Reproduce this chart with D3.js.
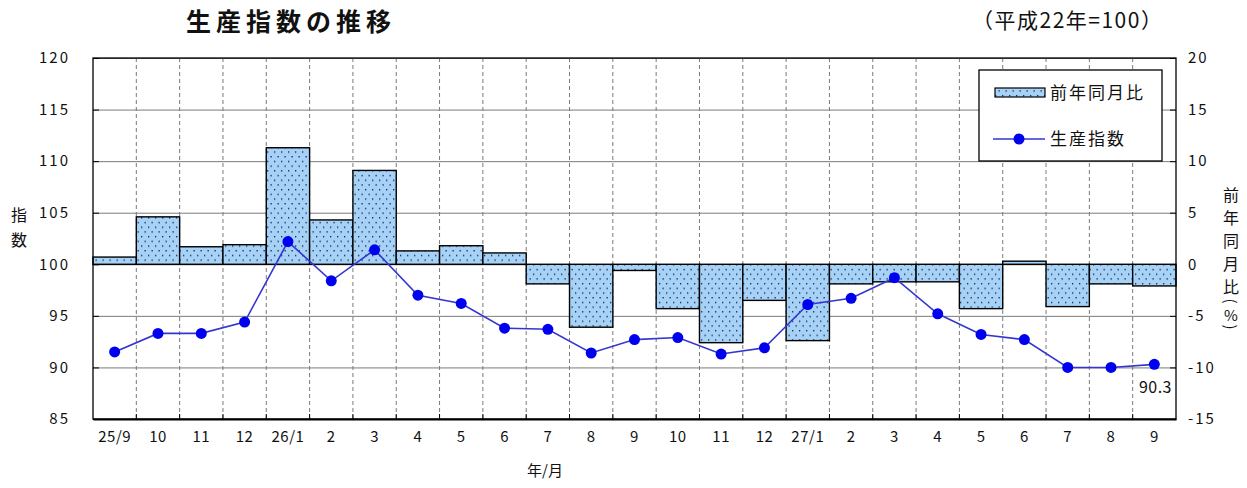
<!DOCTYPE html>
<html>
<head>
<meta charset="utf-8">
<script src="https://cdn.jsdelivr.net/npm/d3@7/dist/d3.min.js"></script>
<style>
  html, body { margin: 0; padding: 0; background: #fff; }
  svg { display: block; }
  text { font-family: "Noto Sans CJK JP", "Noto Sans", sans-serif; fill: #111; }
</style>
</head>
<body>
<svg id="chart" width="1247" height="488"></svg>
<script>
// Months (年/月) from 平成25年9月 to 平成27年9月
const categories = ["25/9","10","11","12","26/1","2","3","4","5","6","7","8","9","10","11","12","27/1","2","3","4","5","6","7","8","9"];
// 前年同月比 (%)
const yoyChange = [0.7,4.6,1.7,1.9,11.3,4.3,9.1,1.3,1.8,1.1,-1.9,-6.1,-0.6,-4.3,-7.6,-3.5,-7.4,-1.9,-1.7,-1.7,-4.3,0.3,-4.1,-1.9,-2.1];
// 生産指数 (平成22年=100)
const productionIndex = [91.5,93.3,93.3,94.4,102.2,98.4,101.4,97.0,96.2,93.8,93.7,91.4,92.7,92.9,91.3,91.9,96.1,96.7,98.7,95.2,93.2,92.7,90.0,90.0,90.3];
const leftTicks = [85,90,95,100,105,110,115,120];
const rightTicks = [-15,-10,-5,0,5,10,15,20];

const svg = d3.select("#chart");
const plot = { left: 93, right: 1176, top: 58, bottom: 419 };

const x = d3.scaleBand().domain(d3.range(categories.length)).range([plot.left, plot.right]).padding(0);
const yL = d3.scaleLinear().domain([85, 120]).range([plot.bottom, plot.top]);
const yR = d3.scaleLinear().domain([-15, 20]).range([plot.bottom, plot.top]);

// dotted fill for the bars
const defs = svg.append("defs");
const pat = defs.append("pattern").attr("id", "dots").attr("patternUnits", "userSpaceOnUse")
  .attr("width", 7).attr("height", 9.4);
pat.append("rect").attr("width", 7).attr("height", 9.4).attr("fill", "#a6d2f7");
pat.append("rect").attr("x", 1).attr("y", 1).attr("width", 1.3).attr("height", 1.3).attr("fill", "#1a1a40");
pat.append("rect").attr("x", 4.5).attr("y", 5.7).attr("width", 1.3).attr("height", 1.3).attr("fill", "#1a1a40");

// horizontal grid
svg.append("g").attr("transform", `translate(${plot.left},0)`)
  .call(d3.axisLeft(yL).tickValues(leftTicks).tickSize(-(plot.right - plot.left)).tickFormat(""))
  .call(g => g.select(".domain").remove())
  .call(g => g.selectAll("line").attr("stroke", "#7a7a7a").attr("stroke-width", 1));

// vertical dashed grid at month boundaries
svg.append("g").selectAll("line").data(d3.range(1, categories.length)).join("line")
  .attr("x1", i => x(i)).attr("x2", i => x(i))
  .attr("y1", plot.top).attr("y2", plot.bottom)
  .attr("stroke", "#7a7a7a").attr("stroke-width", 1).attr("stroke-dasharray", "4,3");

// bars: 前年同月比
svg.append("g").selectAll("rect").data(yoyChange).join("rect")
  .attr("x", (d, i) => x(i))
  .attr("width", x.bandwidth())
  .attr("y", d => Math.min(yR(0), yR(d)))
  .attr("height", d => Math.abs(yR(d) - yR(0)))
  .attr("fill", "url(#dots)")
  .attr("stroke", "#000").attr("stroke-width", 1.4);

// line: 生産指数
const line = d3.line().x((d, i) => x(i) + x.bandwidth() / 2).y(d => yL(d));
svg.append("path").datum(productionIndex)
  .attr("d", line).attr("fill", "none").attr("stroke", "#3535d0").attr("stroke-width", 1.6);
svg.append("g").selectAll("circle").data(productionIndex).join("circle")
  .attr("cx", (d, i) => x(i) + x.bandwidth() / 2)
  .attr("cy", d => yL(d)).attr("r", 5.5).attr("fill", "#0000f0");

// value label on the last point
const last = productionIndex.length - 1;
svg.append("text").attr("x", plot.right - 4).attr("y", yL(productionIndex[last]) + 29)
  .attr("text-anchor", "end").attr("font-size", 16).attr("letter-spacing", 0.5)
  .text(productionIndex[last].toFixed(1));

// plot frame
svg.append("rect").attr("x", plot.left).attr("y", plot.top)
  .attr("width", plot.right - plot.left).attr("height", plot.bottom - plot.top)
  .attr("fill", "none").attr("stroke", "#000").attr("stroke-width", 1.3);

// left axis
svg.append("g").attr("transform", `translate(${plot.left},0)`)
  .call(d3.axisLeft(yL).tickValues(leftTicks).tickSize(-6).tickPadding(23))
  .call(g => g.select(".domain").remove())
  .call(g => g.selectAll("line").attr("stroke", "#000"))
  .call(g => g.selectAll("text").attr("font-size", 15).attr("letter-spacing", 2)
    .attr("font-family", "'Noto Sans CJK JP', sans-serif").attr("fill", "#111"));

// right axis
svg.append("g").attr("transform", `translate(${plot.right},0)`)
  .call(d3.axisRight(yR).tickValues(rightTicks).tickSize(-6).tickPadding(12)
    .tickFormat(d => d < 0 ? "-" + Math.abs(d) : String(d)))
  .call(g => g.select(".domain").remove())
  .call(g => g.selectAll("line").attr("stroke", "#000"))
  .call(g => g.selectAll("text").attr("font-size", 15).attr("letter-spacing", 2)
    .attr("font-family", "'Noto Sans CJK JP', sans-serif").attr("fill", "#111"));

// bottom axis
svg.append("g").attr("transform", `translate(0,${plot.bottom})`)
  .call(d3.axisBottom(x).tickFormat(i => categories[i]).tickSize(0).tickPadding(12))
  .call(g => g.select(".domain").attr("stroke", "#000").attr("stroke-width", 2))
  .call(g => g.selectAll("text").attr("font-size", 15).attr("letter-spacing", 0.5)
    .attr("font-family", "'Noto Sans CJK JP', sans-serif").attr("fill", "#111"));
svg.append("g").selectAll("line").data(d3.range(1, categories.length)).join("line")
  .attr("x1", i => x(i)).attr("x2", i => x(i))
  .attr("y1", plot.bottom - 5).attr("y2", plot.bottom)
  .attr("stroke", "#000");

// titles
svg.append("text").attr("x", 186).attr("y", 31).attr("font-size", 25).attr("font-weight", "bold")
  .attr("letter-spacing", 5).text("生産指数の推移");
svg.append("text").attr("x", 972).attr("y", 28).attr("font-size", 21).attr("letter-spacing", 1.5)
  .text("（平成22年=100）");
svg.append("text").attr("x", 545).attr("y", 476).attr("text-anchor", "middle")
  .attr("font-size", 15).text("年/月");

// vertical axis titles
["指", "数"].forEach((c, k) => {
  svg.append("text").attr("x", 19).attr("y", 221 + k * 25).attr("text-anchor", "middle")
    .attr("font-size", 16).text(c);
});
["前", "年", "同", "月", "比"].forEach((c, k) => {
  svg.append("text").attr("x", 1231).attr("y", 201 + k * 23).attr("text-anchor", "middle")
    .attr("font-size", 16).text(c);
});
// "（%）" written vertically: brackets turned a quarter turn
[["(", 301, 90], ["%", 314, 0], [")", 327, 90]].forEach(([c, cy, rot]) => {
  svg.append("text").attr("transform", `translate(1231,${cy}) rotate(${rot})`)
    .attr("text-anchor", "middle").attr("dominant-baseline", "central")
    .attr("font-size", 15).text(c);
});

// legend
const lg = svg.append("g");
lg.append("rect").attr("x", 979).attr("y", 70).attr("width", 183).attr("height", 91)
  .attr("fill", "#fff").attr("stroke", "#000").attr("stroke-width", 1.3);
lg.append("rect").attr("x", 995).attr("y", 88).attr("width", 50).attr("height", 9)
  .attr("fill", "url(#dots)").attr("stroke", "#000").attr("stroke-width", 1.2);
lg.append("text").attr("x", 1050).attr("y", 99).attr("font-size", 17).attr("letter-spacing", 2)
  .text("前年同月比");
lg.append("line").attr("x1", 993).attr("x2", 1045).attr("y1", 139).attr("y2", 139)
  .attr("stroke", "#3535d0").attr("stroke-width", 1.6);
lg.append("circle").attr("cx", 1019).attr("cy", 139).attr("r", 5.5).attr("fill", "#0000f0");
lg.append("text").attr("x", 1050).attr("y", 145).attr("font-size", 17).attr("letter-spacing", 2)
  .text("生産指数");
</script>
</body>
</html>
